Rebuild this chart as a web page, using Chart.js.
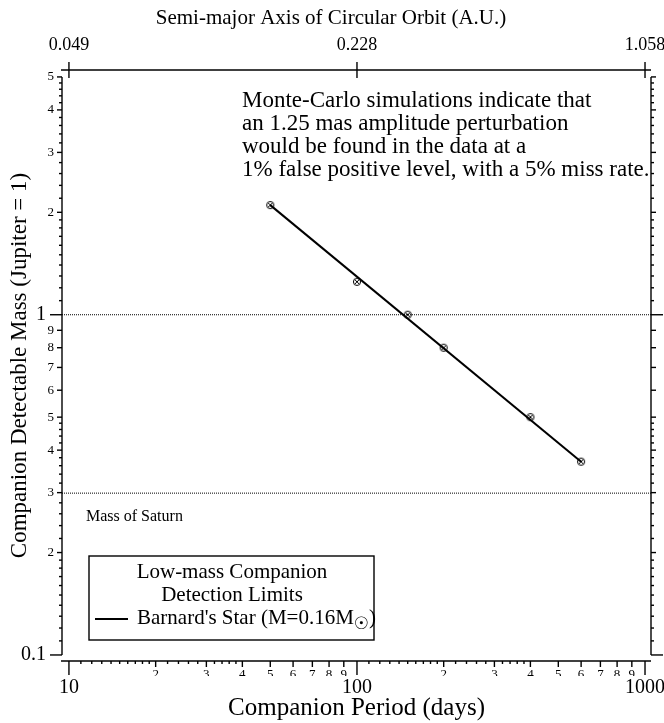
<!DOCTYPE html>
<html>
<head>
<meta charset="utf-8">
<script src="https://cdn.jsdelivr.net/npm/chart.js@4.4.1/dist/chart.umd.min.js"></script>
<style>
  html, body { margin: 0; padding: 0; background: #fff; }
  canvas { display: block; }
</style>
</head>
<body>
<canvas id="massChart" width="664" height="723"></canvas>
<script>
// measured detection limits (period in days, mass in Jupiter masses)
const periodDays = [50, 100, 150, 200, 400, 600];
const detectableMass = [2.1, 1.25, 1.0, 0.8, 0.5, 0.37];

// fitted line through the limits
const fitPeriod = [50, 600];
const fitMass = [2.1, 0.37];

const saturnMass = 0.299;
const jupiterMass = 1;

// axis ranges
const periodMin = 9.46, periodMax = 1049;
const massMin = 0.096, massMax = 5.24;

// tick values and labels
const periodMajorTicks = [10, 100, 1000];
const periodMajorLabels = ['10', '100', '1000'];
const auLabels = ['0.049', '0.228', '1.058'];
const periodDigitTicks = [20, 30, 40, 50, 60, 70, 80, 90, 200, 300, 400, 500, 600, 700, 800, 900];
const periodMinorTicks = [11, 12, 13, 14, 15, 16, 17, 18, 19, 22, 24, 26, 28, 32, 34, 36, 38,
  110, 120, 130, 140, 150, 160, 170, 180, 190, 220, 240, 260, 280, 320, 340, 360, 380];
const massMajorTicks = [0.1, 1];
const massMajorLabels = ['0.1', '1'];
const massDigitTicks = [0.2, 0.3, 0.4, 0.5, 0.6, 0.7, 0.8, 0.9, 2, 3, 4, 5];
const massMinorTicks = [0.11, 0.12, 0.13, 0.14, 0.15, 0.16, 0.17, 0.18, 0.19,
  0.22, 0.24, 0.26, 0.28, 0.32, 0.34, 0.36, 0.38, 0.42, 0.44, 0.46, 0.48,
  1.1, 1.2, 1.3, 1.4, 1.5, 1.6, 1.7, 1.8, 1.9,
  2.2, 2.4, 2.6, 2.8, 3.2, 3.4, 3.6, 3.8, 4.2, 4.4, 4.6, 4.8];

const noteLines = [
  'Monte-Carlo simulations indicate that',
  'an 1.25 mas amplitude perturbation',
  'would be found in the data at a',
  '1% false positive level, with a 5% miss rate.'
];

const SERIF = '"Liberation Serif", "Times New Roman", serif';

function digitOf(v) {
  const p = Math.pow(10, Math.floor(Math.log10(v) + 1e-9));
  return String(Math.round(v / p));
}

function labelFrom(values, labels, v) {
  const i = values.findIndex(t => Math.abs(t - v) / t < 1e-6);
  return i >= 0 ? labels[i] : '';
}

// circle with an x inside, used as point marker
function makeMarker() {
  const c = document.createElement('canvas');
  c.width = 10; c.height = 10;
  const g = c.getContext('2d');
  g.strokeStyle = '#000';
  g.lineWidth = 1;
  g.beginPath();
  g.arc(5, 5, 3.6, 0, Math.PI * 2);
  g.stroke();
  g.beginPath();
  g.moveTo(2.8, 2.8); g.lineTo(7.2, 7.2);
  g.moveTo(7.2, 2.8); g.lineTo(2.8, 7.2);
  g.stroke();
  return c;
}

function fixBox(size, horizontal) {
  return function(scale) {
    if (horizontal) scale.height = size; else scale.width = size;
    scale.paddingLeft = 0; scale.paddingRight = 0;
    scale.paddingTop = 0; scale.paddingBottom = 0;
  };
}

function setTicks(values) {
  return function(scale) {
    scale.ticks = values.map(v => ({ value: v }));
  };
}

const noGrid = { display: false, drawTicks: false };
const noBorder = { display: false };

const framePlugin = {
  id: 'frame',
  afterDraw(chart) {
    const ctx = chart.ctx;
    const area = chart.chartArea;
    const xs = chart.scales.x;
    const ys = chart.scales.y;
    const yTop = ys.getPixelForValue(5);
    const yBot = ys.getPixelForValue(0.1);
    ctx.save();
    ctx.strokeStyle = '#000';
    ctx.lineWidth = 1.4;

    function line(x1, y1, x2, y2) {
      ctx.beginPath();
      ctx.moveTo(x1, y1);
      ctx.lineTo(x2, y2);
      ctx.stroke();
    }

    // left and right axes
    line(area.left, yTop, area.left, yBot);
    line(area.right, yTop, area.right, yBot);
    const yGroups = [[massMajorTicks, 12], [massDigitTicks, 5], [massMinorTicks, 3]];
    yGroups.forEach(([vals, len]) => {
      vals.forEach(v => {
        const py = ys.getPixelForValue(v);
        line(area.left - len, py, area.left, py);
        line(area.right, py, area.right + len, py);
      });
    });

    // bottom axis
    line(area.left - 1, area.bottom, area.right, area.bottom);
    const xGroups = [[periodMajorTicks, 14], [periodDigitTicks, 6], [periodMinorTicks, 3]];
    xGroups.forEach(([vals, len]) => {
      vals.forEach(v => {
        const px = xs.getPixelForValue(v);
        line(px, area.bottom, px, area.bottom + len);
      });
    });

    // top axis, ticks cross the line
    line(area.left - 1, area.top, area.right, area.top);
    periodMajorTicks.forEach(v => {
      const px = xs.getPixelForValue(v);
      line(px, area.top - 8, px, area.top + 8);
    });

    ctx.fillStyle = '#000';
    ctx.textBaseline = 'middle';

    // top axis title
    ctx.font = '21px ' + SERIF;
    ctx.textAlign = 'center';
    ctx.fillText('Semi-major Axis of Circular Orbit (A.U.)', 331, 18);

    // note text
    ctx.font = '23px ' + SERIF;
    ctx.textAlign = 'left';
    noteLines.forEach((t, i) => ctx.fillText(t, 242, 101 + i * 23));

    // saturn label
    ctx.font = '16px ' + SERIF;
    ctx.fillText('Mass of Saturn', 86, 517);

    // legend box
    ctx.lineWidth = 1.4;
    ctx.strokeRect(89, 556, 285, 84);
    ctx.font = '21px ' + SERIF;
    ctx.textAlign = 'center';
    ctx.fillText('Low-mass Companion', 232, 572);
    ctx.fillText('Detection Limits', 232, 595);
    ctx.lineWidth = 2;
    line(95, 619, 128, 619);
    ctx.textAlign = 'left';
    const main = "Barnard's Star (M=0.16M";
    ctx.fillText(main, 137, 618);
    let tx = 137 + ctx.measureText(main).width;
    ctx.font = '17px "DejaVu Sans", sans-serif';
    ctx.fillText('\u2609', tx, 625);
    tx += ctx.measureText('\u2609').width;
    ctx.font = '21px ' + SERIF;
    ctx.fillText(')', tx, 618);
    ctx.restore();
  }
};

const ctx = document.getElementById('massChart').getContext('2d');
new Chart(ctx, {
  type: 'scatter',
  data: {
    datasets: [
      {
        label: "Barnard's Star",
        data: periodDays.map((p, i) => ({ x: p, y: detectableMass[i] })),
        pointStyle: makeMarker(),
        pointRadius: 5,
        showLine: false
      },
      {
        label: 'fit',
        data: fitPeriod.map((p, i) => ({ x: p, y: fitMass[i] })),
        showLine: true,
        borderColor: '#000',
        borderWidth: 2,
        pointRadius: 0
      },
      {
        label: 'Jupiter',
        data: [{ x: periodMin, y: jupiterMass }, { x: periodMax, y: jupiterMass }],
        showLine: true,
        borderColor: '#000',
        borderWidth: 1,
        borderDash: [1, 1],
        pointRadius: 0
      },
      {
        label: 'Saturn',
        data: [{ x: periodMin, y: saturnMass }, { x: periodMax, y: saturnMass }],
        showLine: true,
        borderColor: '#000',
        borderWidth: 1,
        borderDash: [1, 1],
        pointRadius: 0
      }
    ]
  },
  options: {
    responsive: false,
    animation: false,
    layout: { padding: 0, autoPadding: false },
    plugins: { legend: { display: false }, tooltip: { enabled: false } },
    scales: {
      x: {
        type: 'logarithmic', position: 'bottom', weight: 0,
        min: periodMin, max: periodMax,
        grid: noGrid, border: noBorder,
        afterBuildTicks: setTicks(periodDigitTicks),
        afterFit: fixBox(15, true),
        ticks: {
          autoSkip: false, maxRotation: 0, minRotation: 0, padding: 6,
          color: '#000', font: { family: SERIF, size: 13 },
          callback: v => digitOf(v)
        }
      },
      xMajor: {
        type: 'logarithmic', position: 'bottom', weight: 1,
        min: periodMin, max: periodMax,
        grid: noGrid, border: noBorder,
        afterBuildTicks: setTicks(periodMajorTicks),
        afterFit: fixBox(47, true),
        ticks: {
          autoSkip: false, maxRotation: 0, minRotation: 0, padding: 0,
          color: '#000', font: { family: SERIF, size: 20 },
          callback: v => labelFrom(periodMajorTicks, periodMajorLabels, v)
        },
        title: {
          display: true, text: 'Companion Period (days)', color: '#000',
          font: { family: SERIF, size: 25 }, padding: { top: 0, bottom: 0 }
        }
      },
      xTop: {
        type: 'logarithmic', position: 'top',
        min: periodMin, max: periodMax,
        grid: noGrid, border: noBorder,
        afterBuildTicks: setTicks(periodMajorTicks),
        afterFit: fixBox(70, true),
        ticks: {
          autoSkip: false, maxRotation: 0, minRotation: 0, padding: 14,
          color: '#000', font: { family: SERIF, size: 18 },
          callback: v => labelFrom(periodMajorTicks, auLabels, v)
        }
      },
      y: {
        type: 'logarithmic', position: 'left', weight: 0,
        min: massMin, max: massMax,
        grid: noGrid, border: noBorder,
        afterBuildTicks: setTicks(massDigitTicks),
        afterFit: fixBox(15, false),
        ticks: {
          autoSkip: false, padding: 8,
          color: '#000', font: { family: SERIF, size: 13 },
          callback: v => digitOf(v)
        }
      },
      yMajor: {
        type: 'logarithmic', position: 'left', weight: 1,
        min: massMin, max: massMax,
        grid: noGrid, border: noBorder,
        afterBuildTicks: setTicks(massMajorTicks),
        afterFit: fixBox(47, false),
        ticks: {
          autoSkip: false, padding: 1,
          color: '#000', font: { family: SERIF, size: 20 },
          callback: v => labelFrom(massMajorTicks, massMajorLabels, v)
        },
        title: {
          display: true, text: 'Companion Detectable Mass (Jupiter = 1)', color: '#000',
          font: { family: SERIF, size: 23 }, padding: { top: 6, bottom: 0 }
        }
      },
      y2: {
        type: 'logarithmic', position: 'right',
        min: massMin, max: massMax,
        grid: noGrid, border: noBorder,
        afterFit: fixBox(13, false),
        ticks: { display: false }
      }
    }
  },
  plugins: [framePlugin]
});
</script>
</body>
</html>
